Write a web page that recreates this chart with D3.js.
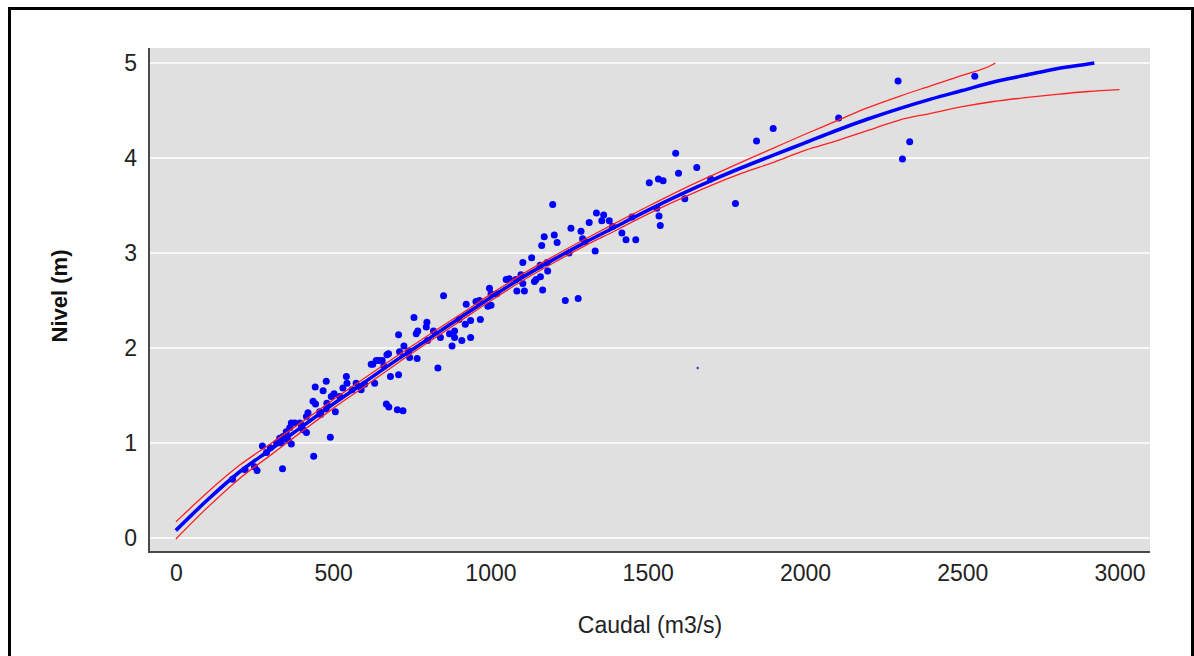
<!DOCTYPE html>
<html><head><meta charset="utf-8">
<script src="https://cdn.jsdelivr.net/npm/d3@7/dist/d3.min.js"></script>
<style>body{margin:0;background:#fff;} svg{display:block;}</style>
</head><body><svg id="chart" width="1194" height="656"></svg>
<script>
// ---- data ----
const xTicks = [0, 500, 1000, 1500, 2000, 2500, 3000];
const yTicks = [0, 1, 2, 3, 4, 5];
const xTitle = "Caudal (m3/s)";
const yTitle = "Nivel (m)";

// fitted rating curve (blue)
const fitQ     = [0,100,200,300,400,500,600,700,800,900,1000,1100,1200,1300,1400,1500,1600,1700,1800,1900,2000,2100,2200,2300,2400,2500,2600,2700,2800,2900,2920];
const fitLevel = [0.08,0.40,0.69,0.93,1.17,1.41,1.64,1.87,2.09,2.31,2.53,2.74,2.93,3.11,3.28,3.45,3.61,3.76,3.90,4.03,4.16,4.29,4.41,4.52,4.62,4.71,4.80,4.87,4.94,4.99,5.00];

// upper confidence band (red)
const upperQ     = [0,100,200,300,400,500,600,700,800,900,1000,1100,1200,1300,1400,1500,1600,1700,1800,1900,2000,2100,2200,2300,2400,2500,2600,2605];
const upperLevel = [0.17,0.48,0.76,0.99,1.22,1.455,1.685,1.91,2.13,2.345,2.565,2.775,2.965,3.145,3.32,3.49,3.655,3.81,3.96,4.105,4.25,4.39,4.53,4.65,4.76,4.87,4.99,5.00];

// lower confidence band (red)
const lowerQ     = [0,100,200,300,400,500,600,700,800,900,1000,1100,1200,1300,1400,1500,1600,1700,1800,1900,2000,2100,2200,2300,2400,2500,2600,2700,2800,2900,3000];
const lowerLevel = [-0.01,0.32,0.62,0.87,1.12,1.365,1.595,1.83,2.055,2.275,2.495,2.705,2.895,3.075,3.24,3.41,3.565,3.71,3.84,3.955,4.08,4.18,4.29,4.40,4.47,4.54,4.595,4.635,4.67,4.70,4.72];

// observed gaugings (blue dots)
const obsQ = [250,258,275,288,339,438,491,330,335,341,351,357,362,367,367,378,394,399,404,415,415,420,436,444,443,457,468,478,478,480,494,503,507,521,531,542,544,573,589,621,626,632,637,646,656,661,671,676,669,677,704,722,682,708,708,711,725,743,757,764,767,769,796,798,819,833,841,851,870,878,886,886,909,920,923,937,937,954,965,968,992,997,1002,1002,1050,1060,1081,1084,1097,1103,1103,1108,1131,1140,1145,1158,1159,1163,1166,1171,1182,1198,1203,1212,1238,1256,1279,1288,1293,1314,1333,1337,1354,1360,1378,1388,1418,1431,1462,1505,1529,1534,1536,1540,1549,1589,1598,1618,1656,1779,1846,1899,2107,2296,2310,2333,2540,
  180,220,300,320,460,560,600,740,800,900,1020,1180,1250,1300,1450,1700];
const obsLevel = [0.75,0.71,0.97,0.90,0.73,0.86,1.06,1.05,1.00,1.07,1.12,1.03,1.16,1.21,0.99,1.21,1.21,1.19,1.14,1.11,1.28,1.32,1.44,1.41,1.59,1.33,1.55,1.65,1.36,1.42,1.49,1.52,1.33,1.49,1.58,1.70,1.63,1.63,1.56,1.83,1.83,1.63,1.87,1.87,1.87,1.81,1.93,1.94,1.41,1.38,1.35,1.34,1.70,1.72,2.14,1.96,2.02,1.90,2.32,2.15,1.89,2.18,2.22,2.27,2.18,1.79,2.11,2.55,2.15,2.02,2.18,2.11,2.08,2.25,2.46,2.11,2.29,2.49,2.50,2.30,2.44,2.63,2.45,2.57,2.72,2.73,2.72,2.60,2.77,2.90,2.68,2.60,2.95,2.70,2.72,2.87,2.75,3.08,2.61,3.17,2.81,3.51,3.19,3.11,2.50,3.26,2.52,3.23,3.15,3.32,3.02,3.42,3.34,3.40,3.34,3.28,3.21,3.14,3.14,3.74,3.47,3.78,3.39,3.29,3.76,4.05,3.84,3.57,3.90,3.52,4.18,4.31,4.42,4.81,3.99,4.17,4.86,
  0.62,0.72,0.95,1.00,1.30,1.56,1.62,1.97,2.08,2.30,2.57,2.90,3.00,3.12,3.38,3.78];

// single small gauging mark
const smallQ = [1659];
const smallLevel = [1.79];

// ---- drawing ----
const svg = d3.select("#chart");
const x = d3.scaleLinear().domain([-85.5, 3097]).range([149, 1150]);
const y = d3.scaleLinear().domain([-0.147, 5.158]).range([552, 48]);

// outer frame
svg.append("rect").attr("x", 9.5).attr("y", 8.5).attr("width", 1183).attr("height", 680)
  .attr("fill", "none").attr("stroke", "#000").attr("stroke-width", 3);

// panel
svg.append("rect").attr("x", 149).attr("y", 48).attr("width", 1001).attr("height", 504).attr("fill", "#e0e0e0");

// gridlines
svg.append("g").selectAll("line").data(yTicks).join("line")
  .attr("x1", 149).attr("x2", 1150)
  .attr("y1", d => y(d)).attr("y2", d => y(d))
  .attr("stroke", "#fff").attr("stroke-width", 1.6);

// axes
const font = "'Liberation Sans', Arial, sans-serif";
const yAxis = d3.axisLeft(y).tickValues(yTicks).tickSize(0).tickPadding(12).tickFormat(d3.format("d"));
const gy = svg.append("g").attr("transform", "translate(149,0)").call(yAxis);
gy.select(".domain").attr("stroke", "#4a4a4a").attr("stroke-width", 2).attr("d", "M0,48V553");
gy.selectAll("text").attr("font-family", font).attr("font-size", 23).attr("fill", "#222");

const xAxis = d3.axisBottom(x).tickValues(xTicks).tickSize(0).tickPadding(13).tickFormat(d3.format("d"));
const gx = svg.append("g").attr("transform", "translate(0,552)").call(xAxis);
gx.select(".domain").attr("stroke", "#4a4a4a").attr("stroke-width", 2).attr("d", "M148,0H1150");
gx.selectAll("text").attr("font-family", font).attr("font-size", 23).attr("fill", "#222");

// observed points
const pts = obsQ.map((q, i) => [q, obsLevel[i]]);
svg.append("g").selectAll("circle").data(pts).join("circle")
  .attr("cx", d => x(d[0])).attr("cy", d => y(d[1])).attr("r", 3.5).attr("fill", "#0000ff");
svg.append("g").selectAll("circle").data(smallQ.map((q, i) => [q, smallLevel[i]])).join("circle")
  .attr("cx", d => x(d[0])).attr("cy", d => y(d[1])).attr("r", 1.2).attr("fill", "#3030ff");

// lines
const line = d3.line().x(d => x(d[0])).y(d => y(d[1])).curve(d3.curveMonotoneX);
svg.append("path").datum(fitQ.map((q, i) => [q, fitLevel[i]])).attr("d", line)
  .attr("fill", "none").attr("stroke", "#0000ff").attr("stroke-width", 3.6);
svg.append("path").datum(upperQ.map((q, i) => [q, upperLevel[i]])).attr("d", line)
  .attr("fill", "none").attr("stroke", "#ff2020").attr("stroke-width", 1.3);
svg.append("path").datum(lowerQ.map((q, i) => [q, lowerLevel[i]])).attr("d", line)
  .attr("fill", "none").attr("stroke", "#ff2020").attr("stroke-width", 1.3);

// titles
svg.append("text").attr("x", 650).attr("y", 625).attr("text-anchor", "middle").attr("dominant-baseline", "central")
  .attr("font-family", font).attr("font-size", 23).attr("fill", "#222").text(xTitle);
svg.append("text").attr("transform", "translate(59,296) rotate(-90)").attr("text-anchor", "middle").attr("dominant-baseline", "central")
  .attr("font-family", font).attr("font-size", 22).attr("font-weight", "bold").attr("fill", "#111").text(yTitle);
</script></body></html>
